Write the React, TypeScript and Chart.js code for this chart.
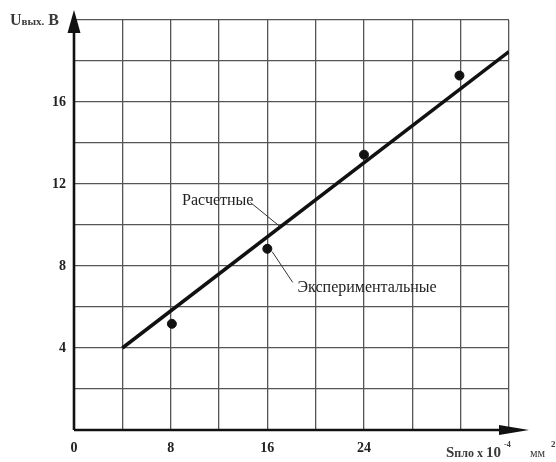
import React, { useEffect, useRef } from "react";
import { Chart, registerables } from "chart.js";

Chart.register(...registerables);

// Data
const xTicksLabeled = [0, 8, 16, 24];
const yTicksLabeled = [4, 8, 12, 16];
const calcLineX = [4, 36];
const calcLineY = [4.0, 18.46];
const expX = [8.1, 16.0, 24.0, 31.9];
const expY = [5.18, 8.84, 13.43, 17.29];

const calcLabel = "Расчетные";
const expLabel = "Экспериментальные";
// label anchor (data units) and leader line endpoints
const calcLabelPos = [11.9, 11.2];
const calcLeader = [14.6, 11.1, 17.1, 9.9];
const expLabelPos = [18.5, 6.95];
const expLeader = [16.4, 8.7, 18.1, 7.2];

const SERIF = "'Liberation Serif', 'Times New Roman', serif";

export default function App() {
  const ref = useRef<HTMLCanvasElement | null>(null);

  useEffect(() => {
    if (!ref.current) return;

    const overlay = {
      id: "overlay",
      afterDraw(chart: any) {
        const ctx = chart.ctx as CanvasRenderingContext2D;
        const xs = chart.scales.x;
        const ys = chart.scales.y;
        const ca = chart.chartArea;
        ctx.save();
        ctx.strokeStyle = "#111";
        ctx.fillStyle = "#111";
        ctx.lineWidth = 2.6;
        // y axis
        ctx.beginPath();
        ctx.moveTo(ca.left, ca.bottom);
        ctx.lineTo(ca.left, ca.top - 2);
        ctx.stroke();
        ctx.beginPath();
        ctx.moveTo(ca.left, ca.top - 10);
        ctx.lineTo(ca.left - 6.5, ca.top + 13);
        ctx.lineTo(ca.left + 6.5, ca.top + 13);
        ctx.closePath();
        ctx.fill();
        // x axis
        ctx.beginPath();
        ctx.moveTo(ca.left, ca.bottom);
        ctx.lineTo(ca.right + 5, ca.bottom);
        ctx.stroke();
        ctx.beginPath();
        ctx.moveTo(ca.right + 20, ca.bottom);
        ctx.lineTo(ca.right - 10, ca.bottom - 5);
        ctx.lineTo(ca.right - 10, ca.bottom + 5);
        ctx.closePath();
        ctx.fill();

        // annotations
        ctx.lineWidth = 1;
        ctx.strokeStyle = "#333";
        const leader = (l: number[]) => {
          ctx.beginPath();
          ctx.moveTo(xs.getPixelForValue(l[0]), ys.getPixelForValue(l[1]));
          ctx.lineTo(xs.getPixelForValue(l[2]), ys.getPixelForValue(l[3]));
          ctx.stroke();
        };
        leader(calcLeader);
        leader(expLeader);
        ctx.fillStyle = "#222";
        ctx.font = `16px ${SERIF}`;
        ctx.textBaseline = "middle";
        ctx.textAlign = "center";
        ctx.fillText(calcLabel, xs.getPixelForValue(calcLabelPos[0]), ys.getPixelForValue(calcLabelPos[1]));
        ctx.textAlign = "left";
        ctx.fillText(expLabel, xs.getPixelForValue(expLabelPos[0]), ys.getPixelForValue(expLabelPos[1]));

        // y axis title
        ctx.textBaseline = "alphabetic";
        ctx.textAlign = "left";
        ctx.fillStyle = "#3a3a3a";
        let px = 10;
        const py = 25;
        ctx.font = `bold 16px ${SERIF}`;
        ctx.fillText("U", px, py);
        px += ctx.measureText("U").width;
        ctx.font = `bold 11px ${SERIF}`;
        ctx.fillText("вых.", px, py);
        px += ctx.measureText("вых.").width;
        ctx.font = `bold 16px ${SERIF}`;
        ctx.fillText(" В", px, py);

        // x axis title
        let qx = 446;
        const qy = 457;
        ctx.font = `bold 15px ${SERIF}`;
        ctx.fillText("S", qx, qy);
        qx += ctx.measureText("S").width;
        ctx.font = `bold 12px ${SERIF}`;
        ctx.fillText("пло", qx, qy);
        qx += ctx.measureText("пло").width + 3;
        ctx.fillText("x", qx, qy);
        qx += ctx.measureText("x").width + 3;
        ctx.font = `bold 15px ${SERIF}`;
        ctx.fillText("10", qx, qy);
        qx += ctx.measureText("10").width + 3;
        ctx.font = `bold 8px ${SERIF}`;
        ctx.fillText("-4", qx, qy - 10);
        ctx.font = `12px ${SERIF}`;
        ctx.fillText("мм", 530, qy);
        ctx.font = `bold 9px ${SERIF}`;
        ctx.fillText("2", 551, qy - 10);
        ctx.restore();
      },
    };

    const chart = new Chart(ref.current, {
      type: "scatter",
      data: {
        datasets: [
          {
            type: "line",
            data: calcLineX.map((x, i) => ({ x, y: calcLineY[i] })),
            borderColor: "#111",
            borderWidth: 3.5,
            pointRadius: 0,
            fill: false,
          } as any,
          {
            data: expX.map((x, i) => ({ x, y: expY[i] })),
            backgroundColor: "#111",
            borderColor: "#111",
            pointRadius: 4.5,
          },
        ],
      },
      options: {
        animation: false,
        responsive: false,
        devicePixelRatio: 1,
        layout: { padding: { top: 20, right: 47, left: 0, bottom: 0 } },
        plugins: { legend: { display: false }, tooltip: { enabled: false } },
        scales: {
          x: {
            type: "linear",
            min: 0,
            max: 36,
            border: { display: false },
            grid: { color: "#555", lineWidth: 1.3, drawTicks: false },
            ticks: {
              stepSize: 4,
              padding: 10,
              maxRotation: 0,
              autoSkip: false,
              color: "#222",
              font: { family: SERIF, size: 14, weight: "bold" },
              callback: (v: any) => (xTicksLabeled.includes(Number(v)) ? String(v) : ""),
            },
            afterFit: (s: any) => {
              s.height = 32;
            },
          },
          y: {
            type: "linear",
            min: 0,
            max: 20,
            border: { display: false },
            grid: { color: "#555", lineWidth: 1.3, drawTicks: false },
            ticks: {
              stepSize: 2,
              padding: 8,
              autoSkip: false,
              color: "#222",
              font: { family: SERIF, size: 14, weight: "bold" },
              callback: (v: any) => (yTicksLabeled.includes(Number(v)) ? String(v) : ""),
            },
            afterFit: (s: any) => {
              s.width = 74;
            },
          },
        },
      },
      plugins: [overlay],
    } as any);

    return () => chart.destroy();
  }, []);

  return (
    <canvas
      ref={ref}
      width={556}
      height={462}
      style={{ position: "absolute", left: 0, top: 0, display: "block", background: "#fff" }}
    />
  );
}
